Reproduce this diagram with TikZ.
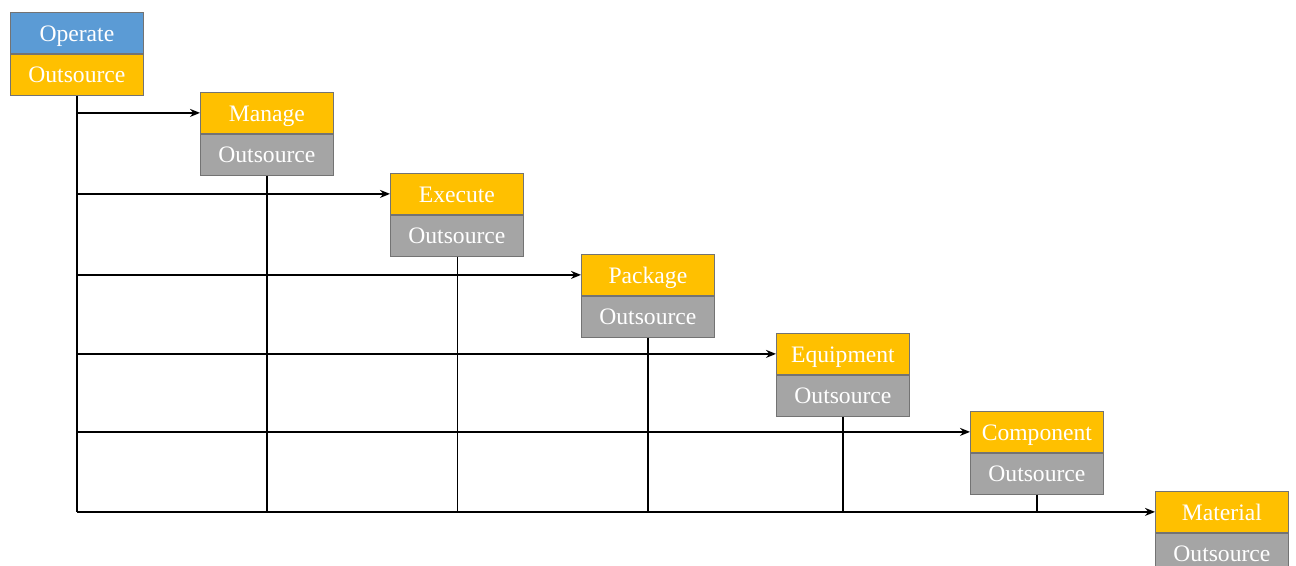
\documentclass[tikz,border=0pt]{standalone}
\usepackage{fontspec}
\setmainfont{Liberation Serif}
\usetikzlibrary{positioning,arrows.meta}
\definecolor{opblue}{HTML}{5B9BD5}
\definecolor{lvlyellow}{HTML}{FFC000}
\definecolor{srcgray}{HTML}{A5A5A5}

\begin{document}
\begin{tikzpicture}[x=0.5pt,y=-0.5pt,
  level/.style={draw=black!55,fill=lvlyellow,text=white,minimum width=66.5pt,
    minimum height=20.5pt,inner sep=0pt,text height=2ex,text depth=0.2ex,
    font=\fontsize{11.8}{14}\selectfont},
  source/.style={level,fill=srcgray},
  feed/.style={line width=1pt,-{Stealth[length=5pt,width=4pt]}},
  drop/.style={line width=1pt}]
\useasboundingbox (0,0) rectangle (1296,566);

\node[level,fill=opblue,anchor=north west] (operate) at (10,12) {Operate};
\node[level,below=0pt of operate] (operate-o) {Outsource};

\node[level,anchor=north west] (manage) at (200,92) {Manage};
\node[source,below=0pt of manage] (manage-o) {Outsource};

\node[level,anchor=north west] (execute) at (390,173) {Execute};
\node[source,below=0pt of execute] (execute-o) {Outsource};

\node[level,anchor=north west] (package) at (581,254) {Package};
\node[source,below=0pt of package] (package-o) {Outsource};

\node[level,anchor=north west] (equipment) at (776,333) {Equipment};
\node[source,below=0pt of equipment] (equipment-o) {Outsource};

\node[level,anchor=north west] (component) at (970,411) {Component};
\node[source,below=0pt of component] (component-o) {Outsource};

\node[level,anchor=north west] (material) at (1155,491) {Material};
\node[source,below=0pt of material] (material-o) {Outsource};

% spine and feeds
\draw[drop] (operate-o.south) -- (operate-o.south |- material.west);
\foreach \n in {manage,execute,package,equipment,component,material}
  \draw[feed] (operate-o.south |- \n.west) -- (\n.west);

% drops to the bottom line
\foreach \n in {manage,package,equipment,component}
  \draw[drop] (\n-o.south) -- (\n-o.south |- material.west);
\draw[thin] (execute-o.south) -- (execute-o.south |- material.west);
\end{tikzpicture}
\end{document}
